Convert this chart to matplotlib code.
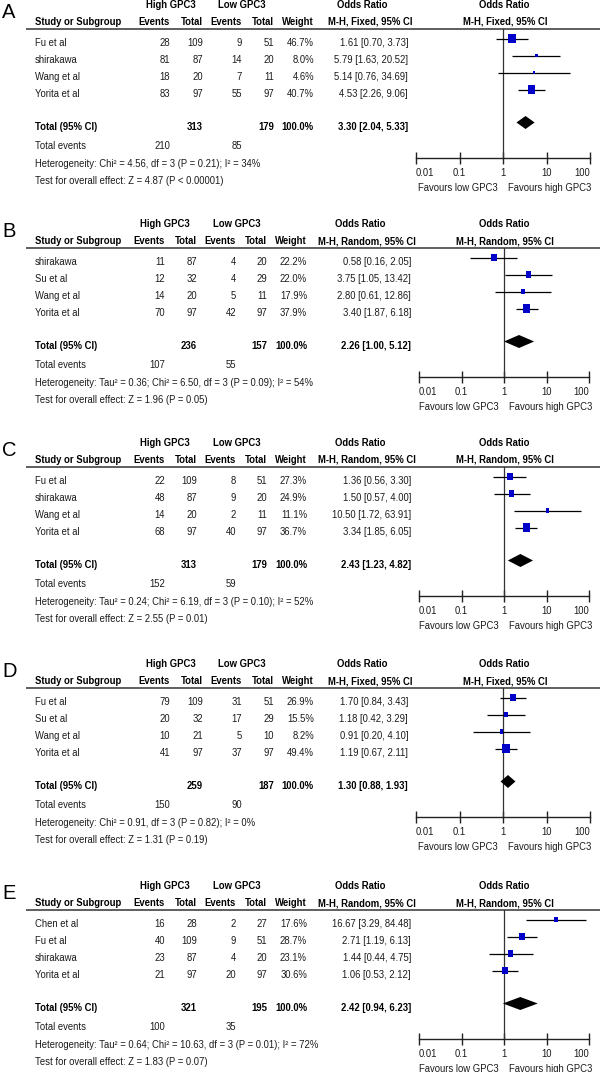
import matplotlib
matplotlib.use("Agg")
import matplotlib.pyplot as plt
from matplotlib.path import Path
import numpy as np

plt.rcParams['font.family'] = ['Liberation Sans', 'DejaVu Sans']

# ---------------- data ----------------
panel_labels = ['A', 'B', 'C', 'D', 'E']
methods = ['Fixed', 'Random', 'Random', 'Fixed', 'Random']

studies_A = ['Fu et al', 'shirakawa', 'Wang et al', 'Yorita et al']
high_events_A = [28, 81, 18, 83]
high_total_A = [109, 87, 20, 97]
low_events_A = [9, 14, 7, 55]
low_total_A = [51, 20, 11, 97]
weight_A = [46.7, 8.0, 4.6, 40.7]
or_A = [1.61, 5.79, 5.14, 4.53]
lo_A = [0.70, 1.63, 0.76, 2.26]
hi_A = [3.73, 20.52, 34.69, 9.06]
pooled_A = [3.30, 2.04, 5.33]
totals_A = [313, 179]
tevents_A = [210, 85]
het_A = 'Heterogeneity: Chi² = 4.56, df = 3 (P = 0.21); I² = 34%'
test_A = 'Test for overall effect: Z = 4.87 (P < 0.00001)'

studies_B = ['shirakawa', 'Su et al', 'Wang et al', 'Yorita et al']
high_events_B = [11, 12, 14, 70]
high_total_B = [87, 32, 20, 97]
low_events_B = [4, 4, 5, 42]
low_total_B = [20, 29, 11, 97]
weight_B = [22.2, 22.0, 17.9, 37.9]
or_B = [0.58, 3.75, 2.80, 3.40]
lo_B = [0.16, 1.05, 0.61, 1.87]
hi_B = [2.05, 13.42, 12.86, 6.18]
pooled_B = [2.26, 1.00, 5.12]
totals_B = [236, 157]
tevents_B = [107, 55]
het_B = 'Heterogeneity: Tau² = 0.36; Chi² = 6.50, df = 3 (P = 0.09); I² = 54%'
test_B = 'Test for overall effect: Z = 1.96 (P = 0.05)'

studies_C = ['Fu et al', 'shirakawa', 'Wang et al', 'Yorita et al']
high_events_C = [22, 48, 14, 68]
high_total_C = [109, 87, 20, 97]
low_events_C = [8, 9, 2, 40]
low_total_C = [51, 20, 11, 97]
weight_C = [27.3, 24.9, 11.1, 36.7]
or_C = [1.36, 1.50, 10.50, 3.34]
lo_C = [0.56, 0.57, 1.72, 1.85]
hi_C = [3.30, 4.00, 63.91, 6.05]
pooled_C = [2.43, 1.23, 4.82]
totals_C = [313, 179]
tevents_C = [152, 59]
het_C = 'Heterogeneity: Tau² = 0.24; Chi² = 6.19, df = 3 (P = 0.10); I² = 52%'
test_C = 'Test for overall effect: Z = 2.55 (P = 0.01)'

studies_D = ['Fu et al', 'Su et al', 'Wang et al', 'Yorita et al']
high_events_D = [79, 20, 10, 41]
high_total_D = [109, 32, 21, 97]
low_events_D = [31, 17, 5, 37]
low_total_D = [51, 29, 10, 97]
weight_D = [26.9, 15.5, 8.2, 49.4]
or_D = [1.70, 1.18, 0.91, 1.19]
lo_D = [0.84, 0.42, 0.20, 0.67]
hi_D = [3.43, 3.29, 4.10, 2.11]
pooled_D = [1.30, 0.88, 1.93]
totals_D = [259, 187]
tevents_D = [150, 90]
het_D = 'Heterogeneity: Chi² = 0.91, df = 3 (P = 0.82); I² = 0%'
test_D = 'Test for overall effect: Z = 1.31 (P = 0.19)'

studies_E = ['Chen et al', 'Fu et al', 'shirakawa', 'Yorita et al']
high_events_E = [16, 40, 23, 21]
high_total_E = [28, 109, 87, 97]
low_events_E = [2, 9, 4, 20]
low_total_E = [27, 51, 20, 97]
weight_E = [17.6, 28.7, 23.1, 30.6]
or_E = [16.67, 2.71, 1.44, 1.06]
lo_E = [3.29, 1.19, 0.44, 0.53]
hi_E = [84.48, 6.13, 4.75, 2.12]
pooled_E = [2.42, 0.94, 6.23]
totals_E = [321, 195]
tevents_E = [100, 35]
het_E = 'Heterogeneity: Tau² = 0.64; Chi² = 10.63, df = 3 (P = 0.01); I² = 72%'
test_E = 'Test for overall effect: Z = 1.83 (P = 0.07)'

tick_values = [0.01, 0.1, 1, 10, 100]
tick_labels = ['0.01', '0.1', '1', '10', '100']

panels = [
    (studies_A, high_events_A, high_total_A, low_events_A, low_total_A, weight_A, or_A, lo_A, hi_A, pooled_A, totals_A, tevents_A, het_A, test_A),
    (studies_B, high_events_B, high_total_B, low_events_B, low_total_B, weight_B, or_B, lo_B, hi_B, pooled_B, totals_B, tevents_B, het_B, test_B),
    (studies_C, high_events_C, high_total_C, low_events_C, low_total_C, weight_C, or_C, lo_C, hi_C, pooled_C, totals_C, tevents_C, het_C, test_C),
    (studies_D, high_events_D, high_total_D, low_events_D, low_total_D, weight_D, or_D, lo_D, hi_D, pooled_D, totals_D, tevents_D, het_D, test_D),
    (studies_E, high_events_E, high_total_E, low_events_E, low_total_E, weight_E, or_E, lo_E, hi_E, pooled_E, totals_E, tevents_E, het_E, test_E),
]

# ---------------- layout (pixels) ----------------
W, H = 600, 1072
offsets = [0, 219, 438, 659, 881]
layout = {
    'Fixed':  dict(ev_h=170, tot_h=203, ev_l=242, tot_l=274, w=314, orr=408, hi_c=171, lo_c=242, or_c=362, mh_c=370, fl=416, fr=590),
    'Random': dict(ev_h=165, tot_h=197, ev_l=236, tot_l=267, w=307, orr=411, hi_c=165, lo_c=237, or_c=360, mh_c=367, fl=419, fr=589),
}
FS = 6.85
TXT = '#1a1a1a'
BLUE = '#0000c8'

fig = plt.figure(figsize=(W / 100, H / 100), dpi=100)
bg = fig.add_axes([0, 0, 1, 1])
bg.set_xlim(0, W)
bg.set_ylim(H, 0)
bg.axis('off')

rect_marker = Path([(-0.8, -1), (0.8, -1), (0.8, 1), (-0.8, 1), (-0.8, -1)],
                   [Path.MOVETO, Path.LINETO, Path.LINETO, Path.LINETO, Path.CLOSEPOLY])

row_y = [43, 60, 77, 94]
Y_H1, Y_H2, Y_LINE, Y_TOT, Y_TEV, Y_HET, Y_TEST = 5, 22, 29, 127, 146, 164, 181
Y_AXIS, Y_FAV = 158, 188
MK_OFF = -4.5

def t(x, y, s, ha='left', bold=False, **kw):
    bg.text(x, y, s, ha=ha, va='center', fontsize=FS, color=TXT if not bold else 'black',
            fontweight='bold' if bold else 'normal', **kw)

for p, (lab, meth, data) in enumerate(zip(panel_labels, methods, panels)):
    (studies, he, ht, le, lt, wt, orv, lo, hi, pooled, totals, tev, het, test) = data
    off = offsets[p]
    L = layout[meth]

    bg.text(2, off + 12.5, lab, ha='left', va='center', fontsize=14.5, color='black')

    # headers
    t(L['hi_c'], off + Y_H1, 'High GPC3', ha='center', bold=True)
    t(L['lo_c'], off + Y_H1, 'Low GPC3', ha='center', bold=True)
    t(L['or_c'], off + Y_H1, 'Odds Ratio', ha='center', bold=True)
    t(504, off + Y_H1, 'Odds Ratio', ha='center', bold=True)
    t(35, off + Y_H2, 'Study or Subgroup', bold=True)
    t(L['ev_h'], off + Y_H2, 'Events', ha='right', bold=True)
    t(L['tot_h'], off + Y_H2, 'Total', ha='right', bold=True)
    t(L['ev_l'], off + Y_H2, 'Events', ha='right', bold=True)
    t(L['tot_l'], off + Y_H2, 'Total', ha='right', bold=True)
    t(L['w'], off + Y_H2, 'Weight', ha='right', bold=True)
    mh = 'M-H, %s, 95%% CI' % meth
    t(L['mh_c'], off + Y_H2, mh, ha='center', bold=True)
    t(505, off + Y_H2, mh, ha='center', bold=True)
    bg.plot([26, 600], [off + Y_LINE, off + Y_LINE], color='#333333', lw=1.1, solid_capstyle='butt')

    # study rows
    for i in range(len(studies)):
        y = off + row_y[i]
        t(35, y, studies[i])
        t(L['ev_h'], y, str(he[i]), ha='right')
        t(L['tot_h'], y, str(ht[i]), ha='right')
        t(L['ev_l'], y, str(le[i]), ha='right')
        t(L['tot_l'], y, str(lt[i]), ha='right')
        t(L['w'], y, '%.1f%%' % wt[i], ha='right')
        t(L['orr'], y, '%.2f [%.2f, %.2f]' % (orv[i], lo[i], hi[i]), ha='right')

    # totals
    y = off + Y_TOT
    t(35, y, 'Total (95% CI)', bold=True)
    t(L['tot_h'], y, str(totals[0]), ha='right', bold=True)
    t(L['tot_l'], y, str(totals[1]), ha='right', bold=True)
    t(L['w'], y, '100.0%', ha='right', bold=True)
    t(L['orr'], y, '%.2f [%.2f, %.2f]' % tuple(pooled), ha='right', bold=True)
    y = off + Y_TEV
    t(35, y, 'Total events')
    t(L['ev_h'], y, str(tev[0]), ha='right')
    t(L['ev_l'], y, str(tev[1]), ha='right')
    t(35, off + Y_HET, het)
    t(35, off + Y_TEST, test)

    # forest axes
    fl, fr = L['fl'], L['fr']
    ax = fig.add_axes([fl / W, 1 - (off + Y_AXIS) / H, (fr - fl) / W, (Y_AXIS - Y_LINE) / H])
    ax.set_xscale('log')
    ax.set_xlim(0.01, 100)
    ax.set_ylim(Y_AXIS, Y_LINE)
    ax.patch.set_alpha(0)
    for s in ['left', 'right', 'top']:
        ax.spines[s].set_visible(False)
    ax.spines['bottom'].set_linewidth(1.0)
    ax.spines['bottom'].set_color('#222222')
    ax.set_yticks([])
    ax.set_xticks(tick_values)
    ax.set_xticklabels(tick_labels)
    ax.xaxis.set_minor_locator(matplotlib.ticker.NullLocator())
    ax.tick_params(axis='x', direction='inout', length=8, width=1.0, color='#222222',
                   labelsize=FS, labelcolor=TXT, pad=3)
    tl = ax.get_xticklabels()
    tl[0].set_horizontalalignment('left')
    tl[-1].set_horizontalalignment('right')
    ax.axvline(1, color='#333333', lw=0.9)

    ys = np.array(row_y) + MK_OFF
    ax.hlines(ys, lo, hi, color='black', lw=0.9)
    for i in range(len(studies)):
        hpx = 1.4 * np.sqrt(wt[i])
        ms = hpx * 0.72
        ax.scatter([orv[i]], [ys[i]], marker=rect_marker, s=ms ** 2, color=BLUE,
                   edgecolors='none', zorder=3)
    yc = Y_TOT + MK_OFF
    ax.fill([pooled[1], pooled[0], pooled[2], pooled[0]],
            [yc, yc - 6.5, yc, yc + 6.5], color='black', lw=0, zorder=3)

    x1 = ax.transData.transform((1, 0))[0]
    t(x1 - 5, off + Y_FAV, 'Favours low GPC3', ha='right')
    t(x1 + 5, off + Y_FAV, 'Favours high GPC3', ha='left')

fig.savefig('out.png', dpi=100)
